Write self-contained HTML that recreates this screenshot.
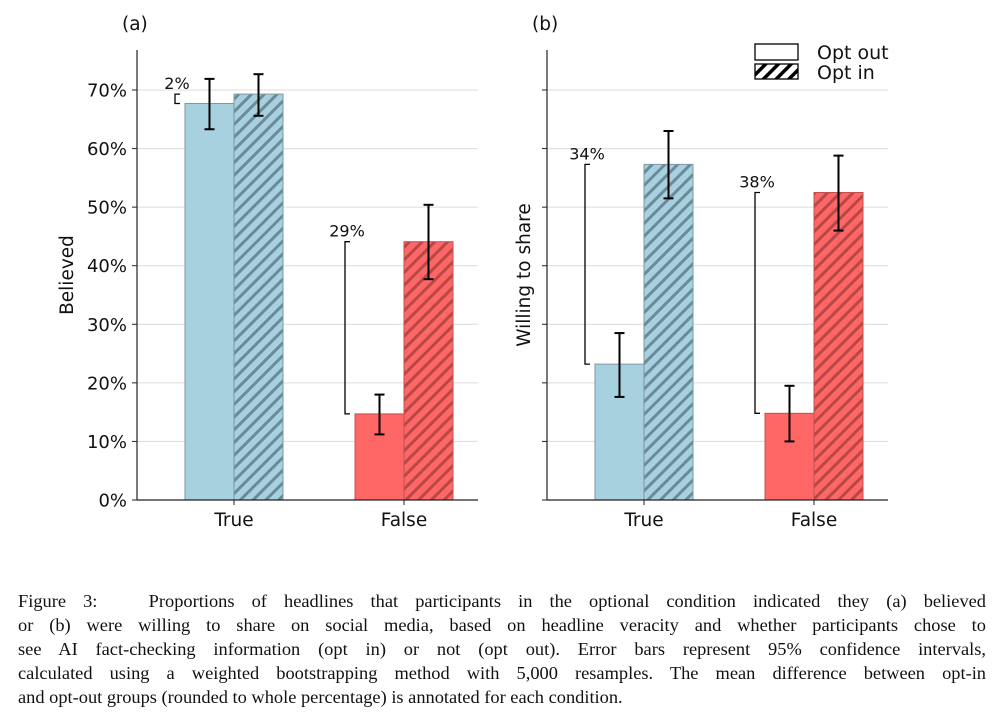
<!DOCTYPE html>
<html><head><meta charset="utf-8"><style>
body{margin:0;background:#fff;width:1000px;height:724px;overflow:hidden;position:relative}
svg text{font-family:"DejaVu Sans","Liberation Sans",sans-serif}
.cap{position:absolute;left:18px;width:968px;top:589px;font-family:"Liberation Serif",serif;font-size:18.4px;line-height:24px;color:#111}
.cap div{text-align:justify;text-align-last:justify;white-space:nowrap}
.cap div.last{text-align-last:left}
</style></head><body>
<svg id="chart" width="1000" height="560" style="position:absolute;left:0;top:0">
<defs>
<pattern id="hb" patternUnits="userSpaceOnUse" width="9" height="9" patternTransform="rotate(45)"><rect width="9" height="9" fill="#a8d1df"/><rect x="0" y="0" width="3" height="9" fill="#6c8a98"/></pattern>
<pattern id="hr" patternUnits="userSpaceOnUse" width="9" height="9" patternTransform="rotate(45)"><rect width="9" height="9" fill="#ff6666"/><rect x="0" y="0" width="3" height="9" fill="#b84848"/></pattern>
<pattern id="hk" patternUnits="userSpaceOnUse" width="9" height="9" patternTransform="rotate(45)"><rect width="9" height="9" fill="#fff"/><rect x="0" y="0" width="3.5" height="9" fill="#000"/></pattern>
</defs>
<g id="root"></g>
</svg>
<div class="cap">
<div>Figure 3: &nbsp; Proportions of headlines that participants in the optional condition indicated they (a) believed</div>
<div>or (b) were willing to share on social media, based on headline veracity and whether participants chose to</div>
<div>see AI fact-checking information (opt in) or not (opt out). Error bars represent 95% confidence intervals,</div>
<div>calculated using a weighted bootstrapping method with 5,000 resamples. The mean difference between opt-in</div>
<div class="last">and opt-out groups (rounded to whole percentage) is annotated for each condition.</div>
</div>
<script>
const categories=["True","False"];
const believedOut=[67.7,14.7], believedIn=[69.3,44.1];
const believedOutErr=[[63.3,71.9],[11.2,18.0]], believedInErr=[[65.6,72.7],[37.7,50.4]];
const believedDiff=["2%","29%"];
const shareOut=[23.2,14.8], shareIn=[57.3,52.5];
const shareOutErr=[[17.6,28.5],[10.0,19.5]], shareInErr=[[51.5,63.0],[46.0,58.8]];
const shareDiff=["34%","38%"];
const yTicks=[0,10,20,30,40,50,60,70];
const yTickLabels=["0%","10%","20%","30%","40%","50%","60%","70%"];

const NS="http://www.w3.org/2000/svg";
const root=document.getElementById('root');
function mk(tag,attrs,parent,text){const e=document.createElementNS(NS,tag);for(const k in attrs)e.setAttribute(k,attrs[k]);if(text!==undefined)e.textContent=text;(parent||root).appendChild(e);return e;}
const y0=500, pxPer=5.857;
function Y(v){return y0-v*pxPer;}

function panel(ox,axRight,outV,inV,outE,inE,diff,title,ylabel,showLabels,name){
  const g=mk('g',{});
  
  
  yTicks.forEach((t,i)=>{
    if(t>0){const gl=mk('line',{x1:ox,x2:axRight,y1:Y(t),y2:Y(t),stroke:'#dcdcdc','stroke-width':1},g);
    }
    mk('line',{x1:ox-5,x2:ox,y1:Y(t),y2:Y(t),stroke:'#222','stroke-width':1},g);
    if(showLabels){const tl=mk('text',{x:ox-10,y:Y(t)+6.5,'text-anchor':'end','font-size':18,fill:'#111'},g,yTickLabels[i]);
    }
  });
  const bw=49;
  const centers=[ox+97,ox+267];
  categories.forEach((c,i)=>{
    const cx=centers[i];
    const blue=i===0;
    const fill=blue?'#a8d1df':'#ff6666', edge=blue?'#7d98a4':'#c05050';
    const b1=mk('rect',{x:cx-bw,y:Y(outV[i]),width:bw,height:y0-Y(outV[i]),fill:fill,stroke:edge,'stroke-width':1},g);
    
    const b2=mk('rect',{x:cx,y:Y(inV[i]),width:bw,height:y0-Y(inV[i]),fill:blue?'url(#hb)':'url(#hr)',stroke:edge,'stroke-width':1},g);
    
    [[cx-bw/2,outE[i]],[cx+bw/2,inE[i]]].forEach(([x,e])=>{
      const eg=mk('g',{stroke:'#000','stroke-width':2},g);
      
      mk('line',{x1:x,x2:x,y1:Y(e[0]),y2:Y(e[1])},eg);
      mk('line',{x1:x-5,x2:x+5,y1:Y(e[0]),y2:Y(e[0])},eg);
      mk('line',{x1:x-5,x2:x+5,y1:Y(e[1]),y2:Y(e[1])},eg);
    });
    const top=Math.max(outV[i],inV[i]), bot=Math.min(outV[i],inV[i]);
    const bx=cx-bw-10;
    const br=mk('path',{d:`M${bx+5},${Y(top)} H${bx} V${Y(bot)} H${bx+5}`,fill:'none',stroke:'#000','stroke-width':1.3},g);
    
    const dt=mk('text',{x:bx+2,y:Y(top)-5,'text-anchor':'middle','font-size':16,fill:'#111'},g,diff[i]);
    
    mk('line',{x1:cx,x2:cx,y1:y0,y2:y0+5,stroke:'#222','stroke-width':1},g);
    const xl=mk('text',{x:cx,y:y0+26,'text-anchor':'middle','font-size':18.5,fill:'#111'},g,c);
    
  });
  mk('line',{x1:ox,x2:ox,y1:50,y2:y0,stroke:'#222','stroke-width':1.2},g);
  mk('line',{x1:ox,x2:axRight,y1:y0,y2:y0,stroke:'#222','stroke-width':1.2},g);
  const tt=mk('text',{x:ox-15,y:30,'font-size':18.5,fill:'#111'},g,title);
  
  const yl=mk('text',{x:0,y:0,'text-anchor':'middle','font-size':18.5,fill:'#111',transform:`translate(${showLabels?ox-64:ox-17},275) rotate(-90)`},g,ylabel);
  
}
panel(137,478,believedOut,believedIn,believedOutErr,believedInErr,believedDiff,"(a)","Believed",true,'panel-believed');
panel(547,888,shareOut,shareIn,shareOutErr,shareInErr,shareDiff,"(b)","Willing to share",false,'panel-share');
const lg=mk('g',{});


mk('rect',{x:755,y:44,width:43,height:16,fill:'#fff',stroke:'#000','stroke-width':1.3},lg);
mk('rect',{x:755,y:64,width:43,height:15,fill:'url(#hk)',stroke:'#000','stroke-width':1.3},lg);
const l1=mk('text',{x:817,y:59,'font-size':19,fill:'#111'},lg,"Opt out");

const l2=mk('text',{x:817,y:79,'font-size':19,fill:'#111'},lg,"Opt in");

</script>
</body></html>
